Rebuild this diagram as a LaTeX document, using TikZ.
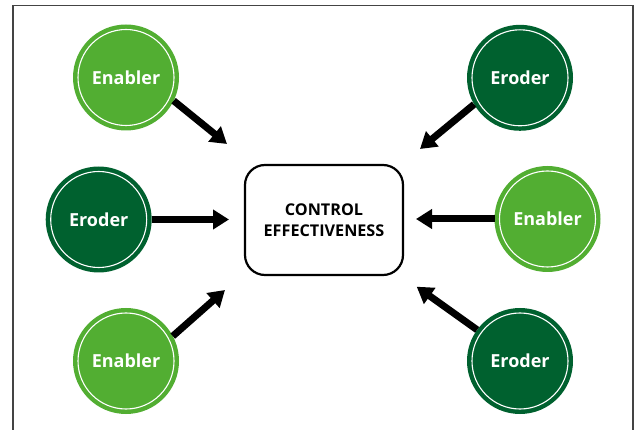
\documentclass[tikz,border=0pt]{standalone}
\usepackage{fontspec}
\setmainfont{Open Sans}
\usetikzlibrary{arrows.meta}
\definecolor{lightgreen}{HTML}{52AE32}
\definecolor{darkgreen}{HTML}{00612F}
\definecolor{framegray}{HTML}{444444}
\tikzset{
  factor/.style={circle, minimum size=106pt, inner sep=0pt, outer sep=0pt,
    text=white, font=\bfseries\fontsize{18}{20}\selectfont,
    path picture={\draw[white, line width=1.1pt]
      (path picture bounding box.center) circle (48pt);}},
  enabler/.style={factor, fill=lightgreen},
  eroder/.style={factor, fill=darkgreen},
  centerbox/.style={draw=black, line width=2.2pt, rounded corners=20pt,
    minimum width=158pt, minimum height=110pt, inner sep=0pt, fill=white,
    align=center, font=\bfseries\fontsize{16.2}{21}\selectfont},
  influence/.style={line width=7pt, -{Triangle[length=16pt,width=19pt]}},
  factorlabel/.style={text=white, font=\bfseries\fontsize{18}{20}\selectfont}
}
\begin{document}
\begin{tikzpicture}[x=1pt,y=-1pt]
  \useasboundingbox (0,0) rectangle (640,430);
  \fill[white] (0,0) rectangle (640,430);
  \draw[framegray, line width=1.3pt] (13,432) -- (13,5.7) -- (633,5.7) -- (633,432);

  \node[centerbox] (ce) at (324,220) {CONTROL\\EFFECTIVENESS};

  \coordinate (t1) at (227,144);
  \coordinate (t2) at (229,219.5);
  \coordinate (t3) at (225,290);
  \coordinate (t4) at (420,149);
  \coordinate (t5) at (416,219);
  \coordinate (t6) at (416.7,286.7);

  \node[enabler] (e1) at (126,77.5) {};
  \node[eroder]  (r1) at (98.7,219.5) {};
  \node[enabler] (e2) at (126,361) {};
  \node[eroder]  (r2) at (520,77.8) {};
  \node[enabler] (e3) at (547.5,219) {};
  \node[eroder]  (r3) at (520,361) {};

  \draw[influence] (e1.-26) -- (t1);
  \draw[influence] (r1.0) -- (t2);
  \draw[influence] (e2.28.5) -- (t3);
  \draw[influence] (r2.-150.3) -- (t4);
  \draw[influence] (e3.180) -- (t5);
  \draw[influence] (r3.144.4) -- (t6);

  \node[factorlabel] (l1) at (e1) {Enabler};
  \node[factorlabel] (l2) at (r1) {Eroder};
  \node[factorlabel] (l3) at (e2) {Enabler};
  \node[factorlabel] (l4) at (r2) {Eroder};
  \node[factorlabel] (l5) at (e3) {Enabler};
  \node[factorlabel] (l6) at (r3) {Eroder};
\end{tikzpicture}
\end{document}
